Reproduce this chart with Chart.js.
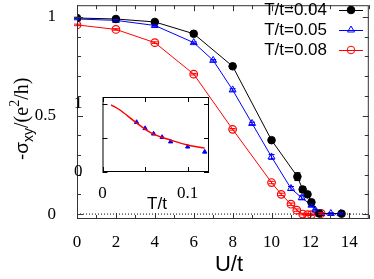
<!DOCTYPE html>
<html>
<head>
<meta charset="utf-8">
<script src="https://cdn.jsdelivr.net/npm/chart.js@4/dist/chart.umd.min.js"></script>
<style>
  body { margin: 0; background: #fff; }
  #wrap { position: relative; width: 374px; height: 279px; }
  #main { position: absolute; left: 0; top: 0; }
  #inset { position: absolute; left: 70px; top: 88px; }
</style>
</head>
<body>
<div id="wrap">
  <canvas id="main" width="374" height="279"></canvas>
  <canvas id="inset" width="150" height="125"></canvas>
</div>
<script>
// main panel: sigma_xy vs U/t
const uT004 = [0, 2, 4, 6, 8, 10, 11.33, 11.6, 11.85, 12.05, 12.45, 13.6];
const sT004 = [0.995, 0.99, 0.975, 0.915, 0.75, 0.375, 0.19, 0.125, 0.1, 0.06, 0.003, 0.002];
const eT004 = [0.004, 0.004, 0.004, 0.004, 0.006, 0.008, 0.02, 0.015, 0.01, 0.01, 0.004, 0.004];
const uT005 = [0, 2, 4, 6, 7, 8, 9, 10, 11, 11.55, 12.05, 12.25, 12.55, 13.05, 13.55];
const sT005 = [0.99, 0.983, 0.957, 0.87, 0.78, 0.63, 0.46, 0.29, 0.13, 0.083, 0.045, 0.02, 0.003, 0.003, 0.003];
const eT005 = [0.004, 0.004, 0.004, 0.004, 0.004, 0.006, 0.006, 0.012, 0.01, 0.01, 0.006, 0.004, 0.004, 0.004, 0.004];
const uT008 = [0, 2, 4, 6, 8, 10, 10.5, 11, 11.3, 11.6, 11.85, 12.05, 12.55];
const sT008 = [0.96, 0.937, 0.87, 0.71, 0.43, 0.16, 0.1, 0.05, 0.02, 0.0, -0.003, -0.003, 0.003];
const eT008 = [0.004, 0.004, 0.004, 0.004, 0.004, 0.006, 0.006, 0.006, 0.006, 0.004, 0.004, 0.004, 0.004];
const seriesLabels = ['T/t=0.04', 'T/t=0.05', 'T/t=0.08'];
const xTickLabels = [0, 2, 4, 6, 8, 10, 12, 14];
const yTickLabels = [0, 0.5, 1];

// inset: sigma_xy vs T/t
const insetLineT = [0.01, 0.02, 0.04, 0.057, 0.081, 0.102, 0.12];
const insetLineS = [0.985, 0.913, 0.72, 0.575, 0.464, 0.39, 0.35];
const insetPtsT = [0.04, 0.05, 0.06, 0.07, 0.08, 0.1, 0.12];
const insetPtsS = [0.73, 0.64, 0.56, 0.51, 0.445, 0.37, 0.295];
const insetXLabels = [0, 0.1];
const insetYLabels = [0, 1];

const pts = (xs, ys) => xs.map((x, i) => ({ x, y: ys[i] }));
const near = (list) => (v) => list.some(k => Math.abs(v - k) < 1e-9) ? String(v) : '';
const tickFont = { family: 'Liberation Serif', size: 17 };
const noPad = (s) => { s.paddingTop = 0; s.paddingBottom = 0; s.paddingLeft = 0; s.paddingRight = 0; };

// box round the plot with inward ticks on all four sides
const frameTicks = {
  id: 'frameTicks',
  afterDraw(chart, args, opts) {
    const { ctx, chartArea: a, scales: { x, y } } = chart;
    ctx.save();
    ctx.strokeStyle = opts.color;
    ctx.lineWidth = 1;
    ctx.strokeRect(a.left + 0.5, a.top + 0.5, a.right - a.left - 1, a.bottom - a.top - 1);
    ctx.beginPath();
    x.ticks.forEach(t => {
      const px = Math.round(x.getPixelForValue(t.value)) + 0.5;
      const len = t.label ? opts.major : opts.minor;
      ctx.moveTo(px, a.bottom); ctx.lineTo(px, a.bottom - len);
      ctx.moveTo(px, a.top); ctx.lineTo(px, a.top + len);
    });
    y.ticks.forEach(t => {
      const py = Math.round(y.getPixelForValue(t.value)) + 0.5;
      const len = t.label ? opts.major : opts.minor;
      ctx.moveTo(a.left, py); ctx.lineTo(a.left + len, py);
      ctx.moveTo(a.right, py); ctx.lineTo(a.right - len, py);
    });
    ctx.stroke();
    ctx.restore();
  }
};

// vertical error bars with caps, from each dataset's errors list
const errorBars = {
  id: 'errorBars',
  afterDatasetsDraw(chart) {
    const { ctx, scales: { y } } = chart;
    ctx.save();
    ctx.lineWidth = 1;
    chart.data.datasets.forEach((ds, i) => {
      if (!ds.errors) return;
      const meta = chart.getDatasetMeta(i);
      ctx.strokeStyle = ds.borderColor;
      ctx.beginPath();
      meta.data.forEach((pt, j) => {
        const v = ds.data[j].y, e = ds.errors[j];
        const top = y.getPixelForValue(v + e), bot = y.getPixelForValue(v - e);
        ctx.moveTo(pt.x, top); ctx.lineTo(pt.x, bot);
        ctx.moveTo(pt.x - 3, top); ctx.lineTo(pt.x + 3, top);
        ctx.moveTo(pt.x - 3, bot); ctx.lineTo(pt.x + 3, bot);
      });
      ctx.stroke();
    });
    ctx.restore();
  }
};

// gnuplot style key: text right aligned, sample on the right
const keyPlugin = {
  id: 'keyPlugin',
  afterDraw(chart) {
    const ctx = chart.ctx;
    ctx.save();
    ctx.font = '17px "Liberation Sans"';
    ctx.textAlign = 'right';
    ctx.textBaseline = 'middle';
    let row = 0;
    chart.data.datasets.forEach(ds => {
      if (!ds.label) return;
      const yy = 10 + row * 20;
      ctx.fillStyle = '#000';
      ctx.fillText(ds.label, 327, yy);
      ctx.strokeStyle = ds.borderColor;
      ctx.lineWidth = 1;
      ctx.beginPath();
      ctx.moveTo(339, yy + 0.5); ctx.lineTo(363, yy + 0.5);
      ctx.stroke();
      ctx.fillStyle = ds.pointBackgroundColor;
      ctx.strokeStyle = ds.borderColor;
      Chart.helpers.drawPoint(ctx, { pointStyle: ds.pointStyle, radius: ds.pointRadius, rotation: 0, borderWidth: 1 }, 351, yy);
      row++;
    });
    ctx.restore();
  }
};

// axis titles with sub/superscripts
const titles = {
  id: 'titles',
  afterDraw(chart) {
    const ctx = chart.ctx;
    ctx.save();
    ctx.fillStyle = '#000';
    ctx.font = '22px "Liberation Sans"';
    ctx.textAlign = 'center';
    ctx.textBaseline = 'middle';
    ctx.fillText('U/t', 229, 265);

    ctx.translate(28, 160);
    ctx.rotate(-Math.PI / 2);
    ctx.textAlign = 'left';
    ctx.textBaseline = 'alphabetic';
    const parts = [
      { t: '-σ', f: '19px "Liberation Sans"', dy: 0 },
      { t: 'xy', f: '14px "Liberation Sans"', dy: 5 },
      { t: '/(e', f: '20px "Liberation Serif"', dy: 0 },
      { t: '2', f: '14px "Liberation Serif"', dy: -9 },
      { t: '/h)', f: '20px "Liberation Serif"', dy: 0 },
    ];
    let px = 0;
    parts.forEach(p => {
      ctx.font = p.f;
      ctx.fillText(p.t, px, p.dy);
      px += ctx.measureText(p.t).width;
    });
    ctx.restore();
  }
};

new Chart(document.getElementById('main'), {
  type: 'line',
  data: {
    datasets: [
      {
        label: seriesLabels[0], data: pts(uT004, sT004), errors: eT004,
        borderColor: '#000000', backgroundColor: '#000000', pointBackgroundColor: '#000000',
        pointStyle: 'circle', pointRadius: 3.8, borderWidth: 1, pointBorderWidth: 1,
      },
      {
        label: seriesLabels[1], data: pts(uT005, sT005), errors: eT005,
        borderColor: '#0000ff', backgroundColor: 'rgba(0,0,0,0)', pointBackgroundColor: 'rgba(0,0,0,0)',
        pointStyle: 'triangle', pointRadius: 4, borderWidth: 1, pointBorderWidth: 1,
      },
      {
        label: seriesLabels[2], data: pts(uT008, sT008), errors: eT008,
        borderColor: '#ff0000', backgroundColor: 'rgba(0,0,0,0)', pointBackgroundColor: 'rgba(0,0,0,0)',
        pointStyle: 'circle', pointRadius: 3.8, borderWidth: 1, pointBorderWidth: 1.2,
      },
      {
        label: '', data: pts([0, 15], [0, 0]),
        borderColor: '#000000', borderDash: [1, 2], borderWidth: 1, pointRadius: 0,
      },
    ],
  },
  options: {
    responsive: false,
    animation: false,
    layout: { padding: { top: 1, right: 2, left: 0, bottom: 0 } },
    plugins: {
      legend: { display: false },
      tooltip: { enabled: false },
      frameTicks: { color: '#333', major: 6, minor: 4 },
    },
    scales: {
      x: {
        type: 'linear', min: 0, max: 15,
        grid: { display: false },
        border: { display: false },
        ticks: { stepSize: 1, includeBounds: false, autoSkip: false, maxRotation: 0,
          padding: 5, color: '#000', font: tickFont, callback: near(xTickLabels) },
        afterFit(s) { s.height = 60; noPad(s); },
      },
      y: {
        min: -0.025, max: 1.06,
        grid: { display: false },
        border: { display: false },
        ticks: { stepSize: 0.1, includeBounds: false, autoSkip: false,
          padding: 13, color: '#000', font: tickFont, callback: near(yTickLabels) },
        afterFit(s) { s.width = 77; noPad(s); },
      },
    },
  },
  plugins: [frameTicks, errorBars, keyPlugin, titles],
});

const insetTitle = {
  id: 'insetTitle',
  afterDraw(chart) {
    const ctx = chart.ctx;
    ctx.save();
    ctx.fillStyle = '#000';
    ctx.font = '17px "Liberation Sans"';
    ctx.textAlign = 'center';
    ctx.textBaseline = 'middle';
    ctx.fillText('T/t', 87, 116);
    ctx.restore();
  }
};

new Chart(document.getElementById('inset'), {
  type: 'line',
  data: {
    datasets: [
      {
        data: pts(insetLineT, insetLineS), borderColor: '#ff0000', borderWidth: 1.5,
        pointRadius: 0, cubicInterpolationMode: 'monotone',
      },
      {
        data: pts(insetPtsT, insetPtsS), showLine: false, pointStyle: 'triangle',
        pointRadius: 2.5, borderColor: '#0000ff', backgroundColor: '#0000ff', pointBorderWidth: 1,
      },
    ],
  },
  options: {
    responsive: false,
    animation: false,
    layout: { padding: { top: 9, right: 11, left: 0, bottom: 0 } },
    plugins: {
      legend: { display: false },
      tooltip: { enabled: false },
      frameTicks: { color: '#000', major: 5, minor: 5 },
    },
    scales: {
      x: {
        type: 'linear', min: 0, max: 0.125,
        grid: { display: false },
        border: { display: false },
        ticks: { stepSize: 0.05, includeBounds: false, autoSkip: false, maxRotation: 0,
          padding: 3, color: '#000', font: tickFont, callback: near(insetXLabels) },
        afterFit(s) { s.height = 41; noPad(s); },
      },
      y: {
        min: 0, max: 1.1,
        grid: { display: false },
        border: { display: false },
        ticks: { stepSize: 0.5, includeBounds: false, autoSkip: false,
          padding: 12, color: '#000', font: tickFont, callback: near(insetYLabels) },
        afterFit(s) { s.width = 32.5; noPad(s); },
      },
    },
  },
  plugins: [frameTicks, insetTitle],
});
</script>
</body>
</html>
